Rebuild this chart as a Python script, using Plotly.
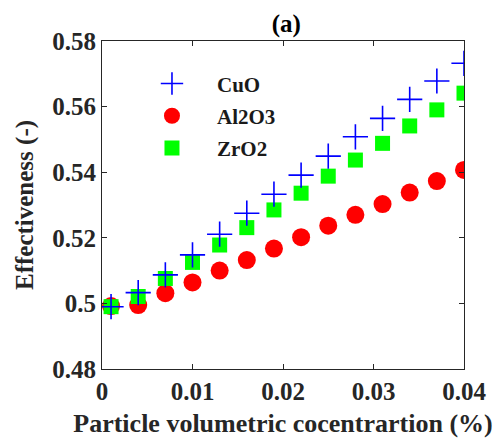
import plotly.graph_objects as go

conc = [0.001, 0.004, 0.007, 0.010, 0.013, 0.016, 0.019, 0.022, 0.025, 0.028, 0.031, 0.034, 0.037, 0.040]
cuo = [0.4990, 0.5033, 0.5087, 0.5148, 0.5211, 0.5275, 0.5333, 0.5391, 0.5449, 0.5508, 0.5564, 0.5622, 0.5678, 0.5732]
al2o3 = [0.4992, 0.4995, 0.5031, 0.5064, 0.5100, 0.5132, 0.5167, 0.5202, 0.5237, 0.5270, 0.5303, 0.5338, 0.5373, 0.5407]
zro2 = [0.4990, 0.5021, 0.5076, 0.5125, 0.5178, 0.5231, 0.5285, 0.5336, 0.5388, 0.5437, 0.5488, 0.5541, 0.5590, 0.5641]

x_ticks = [0, 0.01, 0.02, 0.03, 0.04]
x_tick_labels = ["0", "0.01", "0.02", "0.03", "0.04"]
y_ticks = [0.48, 0.50, 0.52, 0.54, 0.56, 0.58]
y_tick_labels = ["0.48", "0.5", "0.52", "0.54", "0.56", "0.58"]

FONT = "Liberation Serif"
AXC = "#262626"

fig = go.Figure()
fig.add_trace(go.Scatter(x=conc, y=al2o3, mode="markers", name="<b>Al2O3</b>", legendgroup="b", legendrank=2,
                         marker=dict(symbol="circle", size=18, color="#FF0000", line=dict(width=0))))
fig.add_trace(go.Scatter(x=conc, y=zro2, mode="markers", name="<b>ZrO2</b>", legendgroup="c", legendrank=3,
                         marker=dict(symbol="square", size=15, color="#00FF00", line=dict(width=0))))
fig.add_trace(go.Scatter(x=conc, y=cuo, mode="markers", name="<b>CuO</b>", legendgroup="a", legendrank=1,
                         marker=dict(symbol="cross-thin", size=18, color="#0000FF", line=dict(width=1.6, color="#0000FF"))))

fig.update_layout(
    width=494, height=434,
    margin=dict(l=94, r=38, t=33, b=73, autoexpand=False),
    paper_bgcolor="white", plot_bgcolor="white",
    font=dict(family=FONT, color="#1a1a1a"),
    title=dict(text="<b>(a)</b>", x=0.5635, xanchor="center", y=0.965, yanchor="middle",
               font=dict(family=FONT, size=25, color="#000000")),
    showlegend=True,
    legend=dict(x=0.069, y=0.932, xanchor="left", yanchor="top", bgcolor="rgba(0,0,0,0)",
                font=dict(family=FONT, size=21, color="#1a1a1a"),
                tracegroupgap=2, itemwidth=80, traceorder="grouped"),
)
fig.update_xaxes(range=[0, 0.04], tickvals=x_ticks, ticktext=["<b>%s</b>" % t for t in x_tick_labels],
                 automargin=False,
                 showgrid=False, zeroline=False, showline=True, linecolor=AXC, linewidth=1.2,
                 mirror="ticks", ticks="inside", ticklen=5, tickcolor=AXC,
                 tickfont=dict(family=FONT, size=25, color="#262626"),
                 title=dict(text="<b>Particle volumetric cocentrartion (%)</b>", standoff=9,
                            font=dict(family=FONT, size=26, color="#262626")))
fig.update_yaxes(range=[0.48, 0.58], tickvals=y_ticks, ticktext=["<b>%s</b>" % t for t in y_tick_labels],
                 automargin=False,
                 showgrid=False, zeroline=False, showline=True, linecolor=AXC, linewidth=1.2,
                 mirror="ticks", ticks="inside", ticklen=5, tickcolor=AXC,
                 tickfont=dict(family=FONT, size=25, color="#262626"),
                 title=dict(text="<b>Effectiveness (-)</b>", standoff=11,
                            font=dict(family=FONT, size=25, color="#262626")))

fig.write_html("out.html")
